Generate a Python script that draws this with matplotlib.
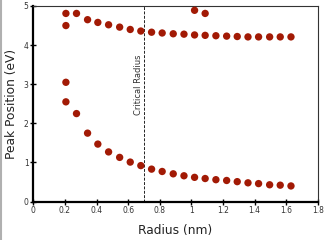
import matplotlib
matplotlib.use("Agg")
import matplotlib.pyplot as plt
from matplotlib.lines import Line2D

# upper branch of the peak positions
upper_r = [0.206, 0.206, 0.273, 0.343, 0.408, 0.476, 0.546, 0.613, 0.680, 0.748,
           0.815, 0.885, 0.953, 1.020, 1.087, 1.155, 1.223, 1.290, 1.358, 1.425,
           1.495, 1.562, 1.630]
upper_e = [4.81, 4.50, 4.81, 4.65, 4.58, 4.52, 4.46, 4.40, 4.36, 4.33,
           4.31, 4.29, 4.28, 4.26, 4.25, 4.24, 4.23, 4.22, 4.21, 4.21,
           4.21, 4.21, 4.21]
# two stray points near the top
extra_r = [1.020, 1.087]
extra_e = [4.89, 4.81]
# lower branch
lower_r = [0.206, 0.206, 0.273, 0.343, 0.408, 0.476, 0.546, 0.613, 0.680, 0.748,
           0.815, 0.885, 0.953, 1.020, 1.087, 1.155, 1.223, 1.290, 1.358, 1.425,
           1.495, 1.562, 1.630]
lower_e = [3.05, 2.55, 2.25, 1.75, 1.47, 1.27, 1.13, 1.01, 0.92, 0.83,
           0.77, 0.71, 0.66, 0.62, 0.59, 0.56, 0.54, 0.51, 0.48, 0.46,
           0.43, 0.42, 0.40]
critical_r = 0.7
xticks = [0, 0.2, 0.4, 0.6, 0.8, 1, 1.2, 1.4, 1.6, 1.8]
xticklabels = ["0", "0.2", "0.4", "0.6", "0.8", "1", "1.2", "1.4", "1.6", "1.8"]
yticks = [0, 1, 2, 3, 4, 5]

dot = "#a21a05"

fig = plt.figure(figsize=(3.27, 2.40), dpi=100)
ax = fig.add_axes([0.102, 0.16, 0.870, 0.815])

ax.scatter(upper_r, upper_e, s=28, color=dot, edgecolors="none", zorder=3)
ax.scatter(extra_r, extra_e, s=28, color=dot, edgecolors="none", zorder=3)
ax.scatter(lower_r, lower_e, s=28, color=dot, edgecolors="none", zorder=3)

ax.axvline(critical_r, color="#222222", lw=0.7, ls=(0, (3, 1.5)))
ax.text(critical_r - 0.037, 2.98, "Critical Radius", rotation=90, fontsize=6,
        color="#333333", ha="center", va="center")

ax.set_xlim(0, 1.8)
ax.set_ylim(0, 5)
ax.set_xticks(xticks)
ax.set_xticklabels(xticklabels)
ax.set_yticks(yticks)
ax.tick_params(direction="inout", length=4, width=1.0, labelsize=5.5,
               labelcolor="#333333", pad=1.5)

for side in ("left", "bottom"):
    ax.spines[side].set_linewidth(1.6)
for side in ("top", "right"):
    ax.spines[side].set_linewidth(0.8)
    ax.spines[side].set_color("#333333")

ax.set_xlabel("Radius (nm)", fontsize=8.8, color="#222222", labelpad=6)
ax.set_ylabel("Peak Position (eV)", fontsize=8.8, color="#222222", labelpad=4)

# light grey edge on the left side of the picture
fig.add_artist(Line2D([0.004, 0.004], [0, 1], color="#b0b0b0", lw=1.5))

fig.savefig("out.png", dpi=100)
